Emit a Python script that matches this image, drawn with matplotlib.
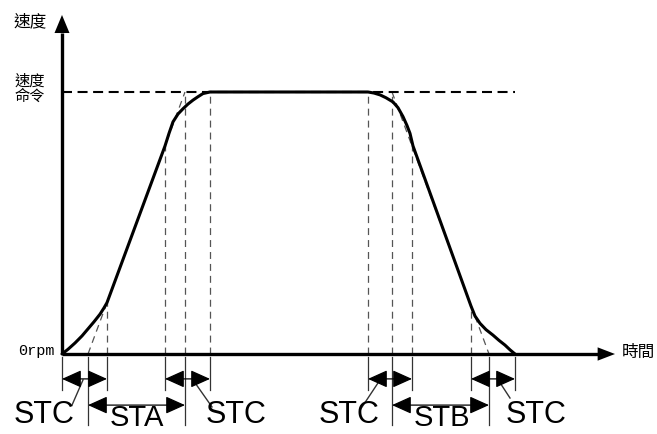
import matplotlib
matplotlib.use("Agg")
import matplotlib.pyplot as plt
from matplotlib.patches import FancyArrowPatch, ArrowStyle

plt.rcParams['lines.scale_dashes'] = False
CJK = ['Noto Sans CJK TC', 'DejaVu Sans']

# ---------------- data ----------------
cmd_speed = 100
# S-curve speed profile (time units, speed %)
curve_t = [0, 6, 13, 20, 26, 32, 38, 42, 45,
           103, 107, 111, 116, 121, 126, 131, 136, 141, 148,
           306, 312, 318, 324, 331, 336, 341, 345, 348, 351,
           409, 413, 418, 424, 431, 437, 443, 448, 453]
curve_v = [0, 1.8, 4.2, 6.9, 9.6, 12.3, 15.2, 17.6, 19.6,
           79.4, 84.2, 88.6, 91.6, 93.6, 95.4, 96.9, 98.2, 99.4, 100,
           100, 99.6, 98.9, 97.8, 96.2, 94.0, 90.6, 87.2, 84.2, 79.4,
           18.3, 14.5, 11.7, 9.3, 7.2, 5.2, 3.4, 1.6, 0]

# ideal linear ramps (extension lines)
ramp_acc_t = [26, 123]
ramp_acc_v = [0, 100]
ramp_dec_t = [330, 427]
ramp_dec_v = [100, 0]

# dashed guide lines above time axis
guide_t = [45, 103, 123, 148, 306, 330, 350, 409]
guide_top = [19.6, 79.4, 100, 100, 100, 100, 79.4, 18.3]

# extension lines below the time axis
ext_short_t = [0, 45, 103, 148, 306, 350, 409, 453]
ext_long_t = [26, 123, 330, 427]

# dimension spans
stc_start = [0, 103, 306, 409]
stc_end = [45, 148, 350, 453]
long_start = [26, 330]
long_end = [123, 427]
long_labels = ['STA', 'STB']
stc_label = 'STC'

# label layout for STC texts and their leader lines
stc_text_t = [-18, 174, 287, 474]
stc_text_v = [-23.3, -23.3, -23.3, -23.3]
leader_t0 = [10, 131, 298, 435]
leader_v0 = [-19.5, -9.9, -21.4, -9.2]
leader_t1 = [21, 150, 318, 448]
leader_v1 = [-9.9, -20.2, -9.9, -16.8]
long_text_t = [75, 380]
long_text_v = [-24.6, -24.6]

# ---------------- figure ----------------
fig = plt.figure(figsize=(6.57, 4.34), dpi=100)
ax = fig.add_axes([0, 0, 1, 1])
ax.set_xlim(-62, 595)
ax.set_ylim(-30.53, 135.11)
ax.axis('off')

# speed command dashed line
ax.plot([0, 453], [cmd_speed, cmd_speed], color='black', lw=1.5,
        dashes=(7.2, 4.0), zorder=2)

# ramp extensions
for tt, vv in [(ramp_acc_t, ramp_acc_v), (ramp_dec_t, ramp_dec_v)]:
    ax.plot(tt, vv, color='#555555', lw=0.9, dashes=(5, 3.6), zorder=1)

# vertical guides
for t, top in zip(guide_t, guide_top):
    ax.plot([t, t], [0, top], color='#555555', lw=0.9, dashes=(5, 3.6), zorder=1)

# extension lines
for t in ext_short_t:
    ax.plot([t, t], [-1.2, -13.7], color='#333333', lw=0.9, zorder=1)
for t in ext_long_t:
    ax.plot([t, t], [-1.2, -27.1], color='#333333', lw=0.9, zorder=1)

# the curve
ax.plot(curve_t, curve_v, color='black', lw=2.2, solid_joinstyle='round',
        solid_capstyle='round', zorder=4)

# axes
ax.plot([0, 0], [0, 122.5], color='black', lw=2.4, solid_capstyle='butt', zorder=5)
ax.plot([0, 540], [0, 0], color='black', lw=2.4, solid_capstyle='butt', zorder=5)
ax.add_patch(FancyArrowPatch((0, 121.5), (0, 129.4),
             arrowstyle=ArrowStyle('-|>', head_length=13, head_width=5.4),
             mutation_scale=1, lw=0, color='black', shrinkA=0, shrinkB=0, zorder=6))
ax.add_patch(FancyArrowPatch((536, 0), (553, 0),
             arrowstyle=ArrowStyle('-|>', head_length=12.5, head_width=4.8),
             mutation_scale=1, lw=0, color='black', shrinkA=0, shrinkB=0, zorder=6))

# dimension arrows
dim_style = ArrowStyle('<|-|>', head_length=12, head_width=5.4)
for a, b in zip(stc_start, stc_end):
    ax.add_patch(FancyArrowPatch((a, -9.5), (b, -9.5), arrowstyle=dim_style,
                 mutation_scale=1, lw=0.9, color='black', shrinkA=0, shrinkB=0, zorder=3))
for a, b in zip(long_start, long_end):
    ax.add_patch(FancyArrowPatch((a, -19.5), (b, -19.5), arrowstyle=dim_style,
                 mutation_scale=1, lw=0.9, color='black', shrinkA=0, shrinkB=0, zorder=3))

# labels
for t, v in zip(stc_text_t, stc_text_v):
    ax.text(t, v, stc_label, fontsize=22, family='Liberation Sans',
            ha='center', va='center')
for t0, v0, t1, v1 in zip(leader_t0, leader_v0, leader_t1, leader_v1):
    ax.plot([t0, t1], [v0, v1], color='#333333', lw=1.0)
for t, v, s in zip(long_text_t, long_text_v, long_labels):
    ax.text(t, v, s, fontsize=21, family='Liberation Sans',
            ha='center', va='center')

ax.text(-32, 126.7, '速度', fontsize=12, family=CJK, ha='center', va='center')
ax.text(-32, 101.2, '速度\n命令', fontsize=11, family=CJK, ha='center',
        va='center', linespacing=0.85)
ax.text(-25.5, 1.0, '0rpm', fontsize=11, family='Liberation Mono',
        ha='center', va='center')
ax.text(576.5, 0.4, '時間', fontsize=12, family=CJK, ha='center', va='center')

fig.savefig('out.png', dpi=100)
